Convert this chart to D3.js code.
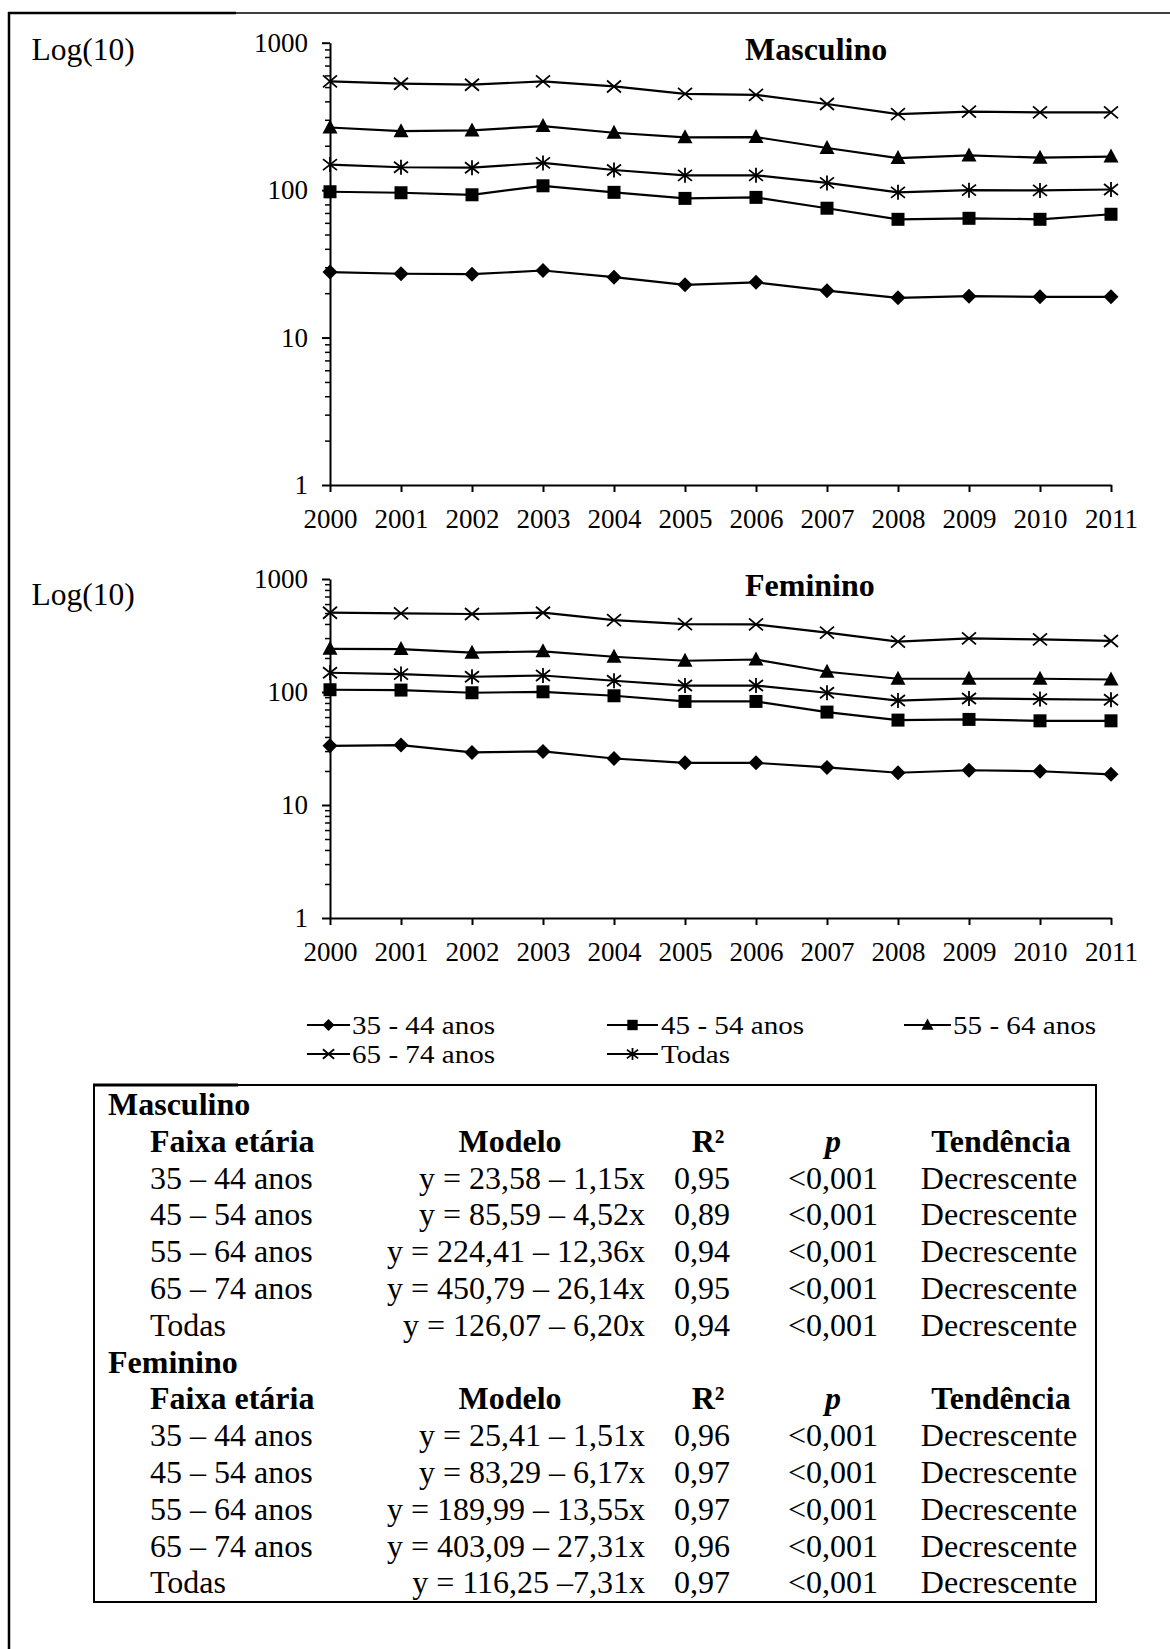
<!DOCTYPE html>
<html>
<head>
<meta charset="utf-8">
<script src="https://cdn.jsdelivr.net/npm/d3@7"></script>
<style>
    body { margin: 0; background: #fff; }
    svg text { font-family: "Liberation Serif", "Times New Roman", serif; fill: #000; }
</style>
</head>
<body>
<div id="figure"></div>
<script>
// ---- data ----
const years = [2000, 2001, 2002, 2003, 2004, 2005, 2006, 2007, 2008, 2009, 2010, 2011];
const seriesNames = ["35 - 44 anos", "45 - 54 anos", "55 - 64 anos", "65 - 74 anos", "Todas"];
const seriesMarkers = ["diamond", "square", "triangle", "cross", "star"];
const yTicks = [1, 10, 100, 1000];

// Masculino
const masc3544 = [27.8, 27.1, 26.9, 28.5, 25.7, 22.8, 23.7, 20.8, 18.6, 19.1, 18.9, 18.9];
const masc4554 = [97.5, 96, 93, 107, 96.6, 87.9, 89.3, 75.4, 63.4, 64.4, 63.4, 68.6];
const masc5564 = [266, 251, 254, 272, 245, 228, 229, 193, 165, 172, 166, 169];
const masc6574 = [547, 527, 519, 547, 505, 450, 443, 384, 328, 341, 337, 337];
const mascTodas = [149, 143, 142, 153, 137, 126, 126, 112, 96.6, 100, 99.6, 101];

// Feminino
const fem3544 = [33.4, 33.9, 29.2, 29.8, 25.8, 23.6, 23.6, 21.5, 19.3, 20.3, 19.9, 18.7];
const fem4554 = [104.7, 104, 98.5, 100.4, 92.6, 82.5, 82.5, 66.4, 56.4, 57.2, 55.6, 55.6];
const fem5564 = [241, 240, 223, 229, 205, 189, 194, 151, 131, 131, 131, 129];
const fem6574 = [503, 497, 490, 503, 433, 399, 397, 335, 279, 298, 292, 283];
const femTodas = [148, 144, 136.5, 140, 125.8, 114, 114, 98.5, 84, 87.7, 86.5, 85.4];

// table
const tableHeaders = ["Faixa etária", "Modelo", "R²", "p", "Tendência"];
const tableAges = ["35 – 44 anos", "45 – 54 anos", "55 – 64 anos", "65 – 74 anos", "Todas"];
const mascModels = ["y = 23,58 – 1,15x", "y = 85,59 – 4,52x", "y = 224,41 – 12,36x", "y = 450,79 – 26,14x", "y = 126,07 – 6,20x"];
const mascR2 = ["0,95", "0,89", "0,94", "0,95", "0,94"];
const femModels = ["y = 25,41 – 1,51x", "y = 83,29 – 6,17x", "y = 189,99 – 13,55x", "y = 403,09 – 27,31x", "y = 116,25 –7,31x"];
const femR2 = ["0,96", "0,97", "0,97", "0,96", "0,97"];
const pValue = "<0,001";
const trend = "Decrescente";

const svg = d3.select("#figure").append("svg")
    .attr("width", 1170)
    .attr("height", 1649);

function addText(g, x, y, str, size, opts = {}) {
    return g.append("text")
        .attr("x", x)
        .attr("y", y)
        .attr("text-anchor", opts.anchor || "start")
        .style("font-size", size + "px")
        .style("font-weight", opts.bold ? "bold" : null)
        .style("font-style", opts.italic ? "italic" : null)
        .text(str);
}

function markerPath(type, s) {
    if (type === "diamond") return `M0,${-7.5 * s}L${7.5 * s},0L0,${7.5 * s}L${-7.5 * s},0Z`;
    if (type === "square") return `M${-6.5 * s},${-6.5 * s}h${13 * s}v${13 * s}h${-13 * s}Z`;
    if (type === "triangle") return `M0,${-8 * s}L${7.5 * s},${6 * s}L${-7.5 * s},${6 * s}Z`;
    if (type === "cross") return `M${-7 * s},${-6 * s}L${7 * s},${6 * s}M${-7 * s},${6 * s}L${7 * s},${-6 * s}`;
    // star = cross + vertical bar
    return `M${-7 * s},${-5.5 * s}L${7 * s},${5.5 * s}M${-7 * s},${5.5 * s}L${7 * s},${-5.5 * s}M0,${-7.5 * s}L0,${7.5 * s}`;
}

function drawMarker(g, type, x, y, s) {
    const open = type === "cross" || type === "star";
    g.append("path")
        .attr("d", markerPath(type, s))
        .attr("transform", `translate(${x},${y})`)
        .attr("fill", open ? "none" : "#000")
        .attr("stroke", open ? "#000" : "none")
        .attr("stroke-width", 1.8);
}

class LogPanel {
    constructor(_svg, _title, _top, _bottom, _labelY, _data) {
        this.svg = _svg;
        this.title = _title;
        this.top = _top;
        this.bottom = _bottom;
        this.labelY = _labelY;
        this.data = _data;
        this.initVis();
    }

    initVis() {
        let vis = this;

        vis.x = d3.scaleLinear().domain([2000, 2011]).range([330, 1111]);
        vis.y = d3.scaleLog().domain([1, 1000]).range([vis.bottom, vis.top]);

        vis.g = vis.svg.append("g");

        // Log(10) label + title
        addText(vis.g, 31.5, vis.labelY, "Log(10)", 31.5);
        addText(vis.g, 745, vis.top + 17, vis.title, 32, { bold: true });

        // minor ticks 2..9
        let minor = [];
        [1, 10, 100].forEach(d => { for (let k = 2; k <= 9; k++) minor.push(d * k); });
        vis.svg.append("g")
            .attr("transform", `translate(330,0)`)
            .call(d3.axisLeft(vis.y).tickValues(minor).tickSize(5).tickFormat(""))
            .call(g => g.select(".domain").remove())
            .selectAll("line").attr("stroke", "#000").attr("stroke-width", 1.5);

        // y axis
        vis.yAxisGroup = vis.svg.append("g")
            .attr("transform", `translate(330,0)`)
            .call(d3.axisLeft(vis.y).tickValues(yTicks).tickSize(8).tickSizeOuter(0).tickFormat(d3.format("d")));

        // x axis
        vis.xAxisGroup = vis.svg.append("g")
            .attr("transform", `translate(0,${vis.bottom})`)
            .call(d3.axisBottom(vis.x).tickValues(years).tickSize(7).tickSizeOuter(0).tickPadding(17).tickFormat(d3.format("d")));

        [vis.yAxisGroup, vis.xAxisGroup].forEach(ax => {
            ax.attr("font-family", null).attr("font-size", null);
            ax.selectAll("path, line").attr("stroke", "#000").attr("stroke-width", 2);
            ax.selectAll("text").style("font-size", "27px");
        });
        vis.yAxisGroup.selectAll("text").attr("x", -22);

        vis.updateVis();
    }

    updateVis() {
        let vis = this;

        let line = d3.line()
            .x((d, i) => vis.x(years[i]))
            .y(d => vis.y(d));

        vis.data.forEach((values, s) => {
            vis.g.append("path")
                .datum(values)
                .attr("d", line)
                .attr("fill", "none")
                .attr("stroke", "#000")
                .attr("stroke-width", 2.2);

            values.forEach((v, i) => drawMarker(vis.g, seriesMarkers[s], vis.x(years[i]), vis.y(v), 1));
        });
    }
}

// frame of the figure (left and top only)
svg.append("line").attr("x1", 9).attr("y1", 12).attr("x2", 9).attr("y2", 1649)
    .attr("stroke", "#000").attr("stroke-width", 2.5);
svg.append("line").attr("x1", 8).attr("y1", 13).attr("x2", 236).attr("y2", 13)
    .attr("stroke", "#000").attr("stroke-width", 2.5);
svg.append("line").attr("x1", 236).attr("y1", 13).attr("x2", 1170).attr("y2", 13)
    .attr("stroke", "#000").attr("stroke-width", 1.3);

new LogPanel(svg, "Masculino", 42.7, 485, 60, [masc3544, masc4554, masc5564, masc6574, mascTodas]);
new LogPanel(svg, "Feminino", 579, 918, 605, [fem3544, fem4554, fem5564, fem6574, femTodas]);

// legend: [line start, line end, text x, baseline]
const legendPos = [[307, 350, 352, 1034], [607, 658, 661, 1034], [904, 951, 953, 1063], [307, 350, 352, 1063], [607, 658, 661, 1063]];
legendPos[2][3] = 1034;
const legend = svg.append("g").attr("class", "legend");
seriesNames.forEach((name, i) => {
    const [lx0, lx1, tx, ly] = legendPos[i];
    legend.append("line")
        .attr("x1", lx0).attr("x2", lx1)
        .attr("y1", ly - 9).attr("y2", ly - 9)
        .attr("stroke", "#000").attr("stroke-width", 2.2);
    drawMarker(legend, seriesMarkers[i], (lx0 + lx1) / 2, ly - 9, 0.8);
    // narrow font size so rows do not collide, stretched to the reference width
    legend.append("text")
        .attr("transform", `translate(${tx},${ly}) scale(1.12,1)`)
        .style("font-size", "26px")
        .text(name);
});

// regression table
const table = svg.append("g").attr("class", "table");
table.append("rect")
    .attr("x", 94).attr("y", 1085)
    .attr("width", 1002).attr("height", 517)
    .attr("fill", "none").attr("stroke", "#000").attr("stroke-width", 2);
table.append("line").attr("x1", 93).attr("x2", 238).attr("y1", 1085).attr("y2", 1085)
    .attr("stroke", "#000").attr("stroke-width", 3);

const rowStep = 36.8;
function drawBlock(title, y0, models, r2) {
    addText(table, 108, y0, title, 32, { bold: true });
    let yh = y0 + rowStep;
    addText(table, 150, yh, tableHeaders[0], 32, { bold: true });
    addText(table, 510, yh, tableHeaders[1], 32, { bold: true, anchor: "middle" });
    addText(table, 708, yh, tableHeaders[2], 32, { bold: true, anchor: "middle" });
    addText(table, 833, yh, tableHeaders[3], 32, { bold: true, italic: true, anchor: "middle" });
    addText(table, 1001, yh, tableHeaders[4], 32, { bold: true, anchor: "middle" });
    tableAges.forEach((age, i) => {
        let yr = yh + rowStep * (i + 1);
        addText(table, 150, yr, age, 32);
        addText(table, 645, yr, models[i], 32, { anchor: "end" });
        addText(table, 702, yr, r2[i], 32, { anchor: "middle" });
        addText(table, 833, yr, pValue, 32, { anchor: "middle" });
        addText(table, 999, yr, trend, 32, { anchor: "middle" });
    });
}
drawBlock("Masculino", 1115, mascModels, mascR2);
drawBlock("Feminino", 1115 + rowStep * 7, femModels, femR2);
</script>
</body>
</html>
